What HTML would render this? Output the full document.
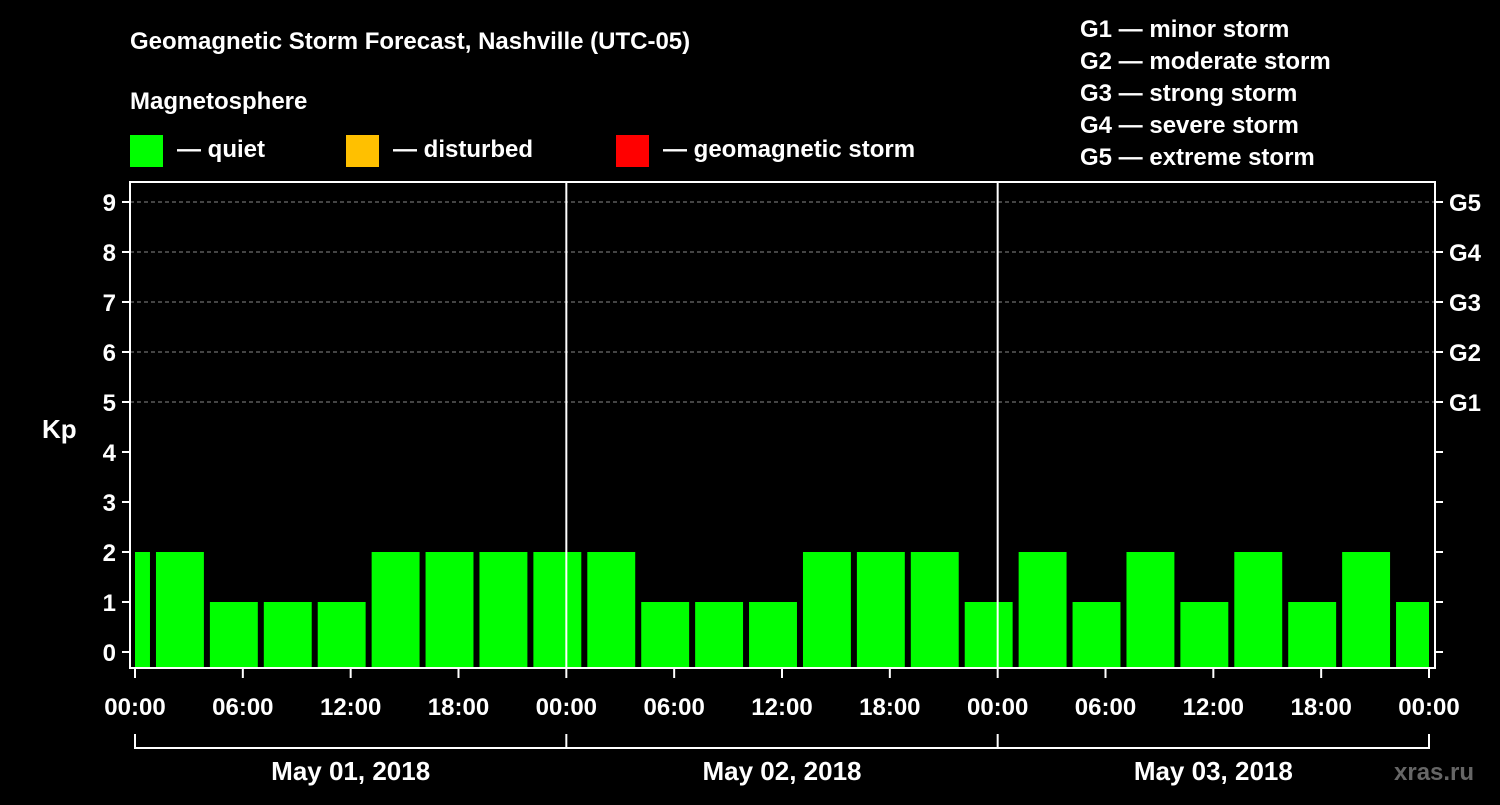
<!DOCTYPE html>
<html><head><meta charset="utf-8"><style>
body{margin:0;background:#000;width:1500px;height:800px;overflow:hidden}
svg{font-family:"Liberation Sans",Arial,sans-serif;font-weight:bold}
</style></head><body>
<svg id="c" width="1500" height="800">
<text x="130" y="49" fill="#fff" font-size="24">Geomagnetic Storm Forecast, Nashville (UTC-05)</text>
<text x="130" y="109" fill="#fff" font-size="24">Magnetosphere</text>
<g><rect x="130" y="135" width="33" height="32" fill="#00ff00"/><text x="177" y="157" fill="#fff" font-size="24">— quiet</text></g>
<g><rect x="346" y="135" width="33" height="32" fill="#ffc000"/><text x="393" y="157" fill="#fff" font-size="24">— disturbed</text></g>
<g><rect x="616" y="135" width="33" height="32" fill="#ff0000"/><text x="663" y="157" fill="#fff" font-size="24">— geomagnetic storm</text></g>
<g fill="#fff" font-size="24">
<text x="1080" y="37">G1 — minor storm</text><text x="1080" y="69">G2 — moderate storm</text><text x="1080" y="101">G3 — strong storm</text><text x="1080" y="133">G4 — severe storm</text><text x="1080" y="165">G5 — extreme storm</text></g>
<text x="42" y="438" fill="#fff" font-size="26">Kp</text>
<text x="1394" y="780" fill="#666" font-size="24">xras.ru</text>
<g id="plot"></g>
</svg>
<script>
const kpValues=[2,2,1,1,1,2,2,2,2,2,1,1,1,2,2,2,1,2,1,2,1,2,1,2,1];
const yTicks=[0,1,2,3,4,5,6,7,8,9];
const gLabels=["G1","G2","G3","G4","G5"];
const xTickLabels=["00:00","06:00","12:00","18:00","00:00","06:00","12:00","18:00","00:00","06:00","12:00","18:00","00:00"];
const dayLabels=["May 01, 2018","May 02, 2018","May 03, 2018"];
const startHour=-2; // first interval start, local hours
const NS="http://www.w3.org/2000/svg";
const g=document.getElementById('plot');
const X0=135,X1=1429,L=130,R=1435,T=182,B=668;
const x=h=>X0+(X1-X0)*h/72;
const y=v=>652-50*v;
function el(t,a,txt){const e=document.createElementNS(NS,t);for(const k in a)e.setAttribute(k,a[k]);if(txt!=null)e.textContent=txt;g.appendChild(e);return e;}
const clip=el('clipPath',{id:'pc'});const cr=document.createElementNS(NS,'rect');
cr.setAttribute('x',X0);cr.setAttribute('y',T);cr.setAttribute('width',X1-X0);cr.setAttribute('height',B-T);clip.appendChild(cr);
const bars=el('g',{'clip-path':'url(#pc)'});
kpValues.forEach((v,i)=>{const h0=startHour+3*i;const r=document.createElementNS(NS,'rect');
r.setAttribute('x',x(h0)+3);r.setAttribute('width',x(h0+3)-x(h0)-6);r.setAttribute('y',y(v));r.setAttribute('height',B-y(v));
r.setAttribute('fill',v>=5?'#ff0000':v>=4?'#ffc000':'#00ff00');


bars.appendChild(r);});
yTicks.forEach(v=>{
 if(v>=5){const l=el('line',{x1:L,x2:R,y1:y(v),y2:y(v),stroke:'#888','stroke-dasharray':'4,3'});}
 el('line',{x1:L-8,x2:L,y1:y(v),y2:y(v),stroke:'#fff','stroke-width':2});
 el('line',{x1:R,x2:R+8,y1:y(v),y2:y(v),stroke:'#fff','stroke-width':2});
 const t=el('text',{x:L-14,y:y(v)+9,fill:'#fff','font-size':24,'text-anchor':'end'},v);
 
});
gLabels.forEach((s,i)=>{const t=el('text',{x:1449,y:y(5+i)+9,fill:'#fff','font-size':24},s);
 });
[24,48].forEach(h=>el('line',{x1:x(h),x2:x(h),y1:T,y2:B,stroke:'#fff','stroke-width':2}));
el('rect',{x:L,y:T,width:R-L,height:B-T,fill:'none',stroke:'#fff','stroke-width':2});
xTickLabels.forEach((s,i)=>{const xx=x(6*i);
 el('line',{x1:xx,x2:xx,y1:B,y2:B+10,stroke:'#fff','stroke-width':2});
 const t=el('text',{x:xx,y:715,fill:'#fff','font-size':24,'text-anchor':'middle'},s);
 });
el('line',{x1:X0,x2:X1,y1:748,y2:748,stroke:'#fff','stroke-width':2});
[0,24,48,72].forEach(h=>el('line',{x1:x(h),x2:x(h),y1:734,y2:749,stroke:'#fff','stroke-width':2}));
dayLabels.forEach((s,i)=>{const t=el('text',{x:x(24*i+12),y:780,fill:'#fff','font-size':26,'text-anchor':'middle'},s);
 });
</script>
</body></html>
